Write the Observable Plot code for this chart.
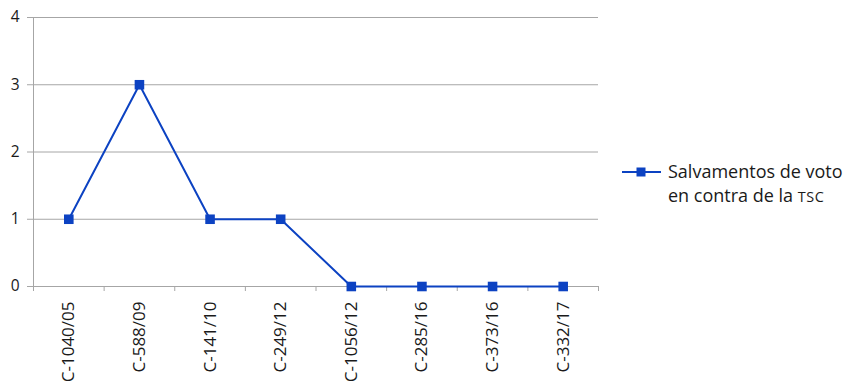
<!DOCTYPE html>
<html>
<head>
<meta charset="utf-8">
<script src="https://cdn.jsdelivr.net/npm/d3@7"></script>
<script src="https://cdn.jsdelivr.net/npm/@observablehq/plot@0.6"></script>
<style>
  html, body { margin: 0; padding: 0; background: #fff; }
  #wrap { position: relative; width: 849px; height: 381px; font-family: "Open Sans", sans-serif; }
  #legend { position: absolute; left: 622px; top: 159px; display: flex; align-items: flex-start; color: #1a1a1a; font-size: 18px; line-height: 24px; white-space: nowrap; }
  #legend svg { margin-top: 6px; margin-right: 7px; }
  .sc { font-size: 0.8em; letter-spacing: 0.04em; }
</style>
</head>
<body>
<div id="wrap"></div>
<script>
const categories = ["C-1040/05", "C-588/09", "C-141/10", "C-249/12", "C-1056/12", "C-285/16", "C-373/16", "C-332/17"];
const values = [1, 3, 1, 1, 0, 0, 0, 0];
const yTicks = [0, 1, 2, 3, 4];
const seriesName = "Salvamentos de voto en contra de la TSC";

const data = categories.map((c, i) => ({cat: c, v: values[i]}));
const lineColor = "#0c42c2";
const gridColor = "#a6a6a6";
const W = 849, H = 381, mL = 33, mR = 251, mT = 17, mB = 95;
const half = (W - mL - mR) / categories.length / 2;

const chart = Plot.plot({
  width: W, height: H,
  marginLeft: mL, marginRight: mR, marginTop: mT, marginBottom: mB,
  style: {fontFamily: "Open Sans, sans-serif", fontSize: "15px", color: "#1a1a1a", background: "#fff"},
  x: {type: "point", domain: categories, padding: 0.5, round: false, label: null},
  y: {domain: [0, 4], label: null},
  marks: [
    Plot.ruleY(yTicks, {stroke: gridColor, strokeWidth: 1}),
    Plot.ruleX([categories[0]], {dx: -half, stroke: gridColor, insetBottom: -5}),
    Plot.axisY({ticks: yTicks, tickSize: 6, tickPadding: 8, stroke: gridColor, fill: "#1a1a1a", fontSize: 15.5, label: null, tickFormat: d3.format("d")}),
    Plot.axisX(categories, {tickSize: 5, tickFormat: () => "", dx: half, stroke: gridColor, label: null}),
    Plot.axisX(categories, {tickSize: 0, tickRotate: -90, tickPadding: 15, fill: "#1a1a1a", fontSize: 17, label: null}),
    Plot.line(data, {x: "cat", y: "v", stroke: lineColor, strokeWidth: 2}),
    Plot.dot(data, {x: "cat", y: "v", symbol: "square", r: 5.4, fill: lineColor, stroke: "none"})
  ]
});

const wrap = document.getElementById("wrap");
wrap.appendChild(chart);
chart.style.position = "absolute";
chart.style.left = "0px";
chart.style.top = "0px";

const legend = document.createElement("div");
legend.id = "legend";
const words = seriesName.split(" ");
legend.innerHTML = `<svg width="39" height="14"><line x1="0" x2="39" y1="7" y2="7" stroke="${lineColor}" stroke-width="2"/><rect x="14.5" y="2.5" width="9" height="9" fill="${lineColor}"/></svg>` +
  `<div>${words.slice(0, 3).join(" ")}<br>${words.slice(3, 7).join(" ")} <span class="sc">${words[7]}</span></div>`;
wrap.appendChild(legend);
</script>
</body>
</html>
